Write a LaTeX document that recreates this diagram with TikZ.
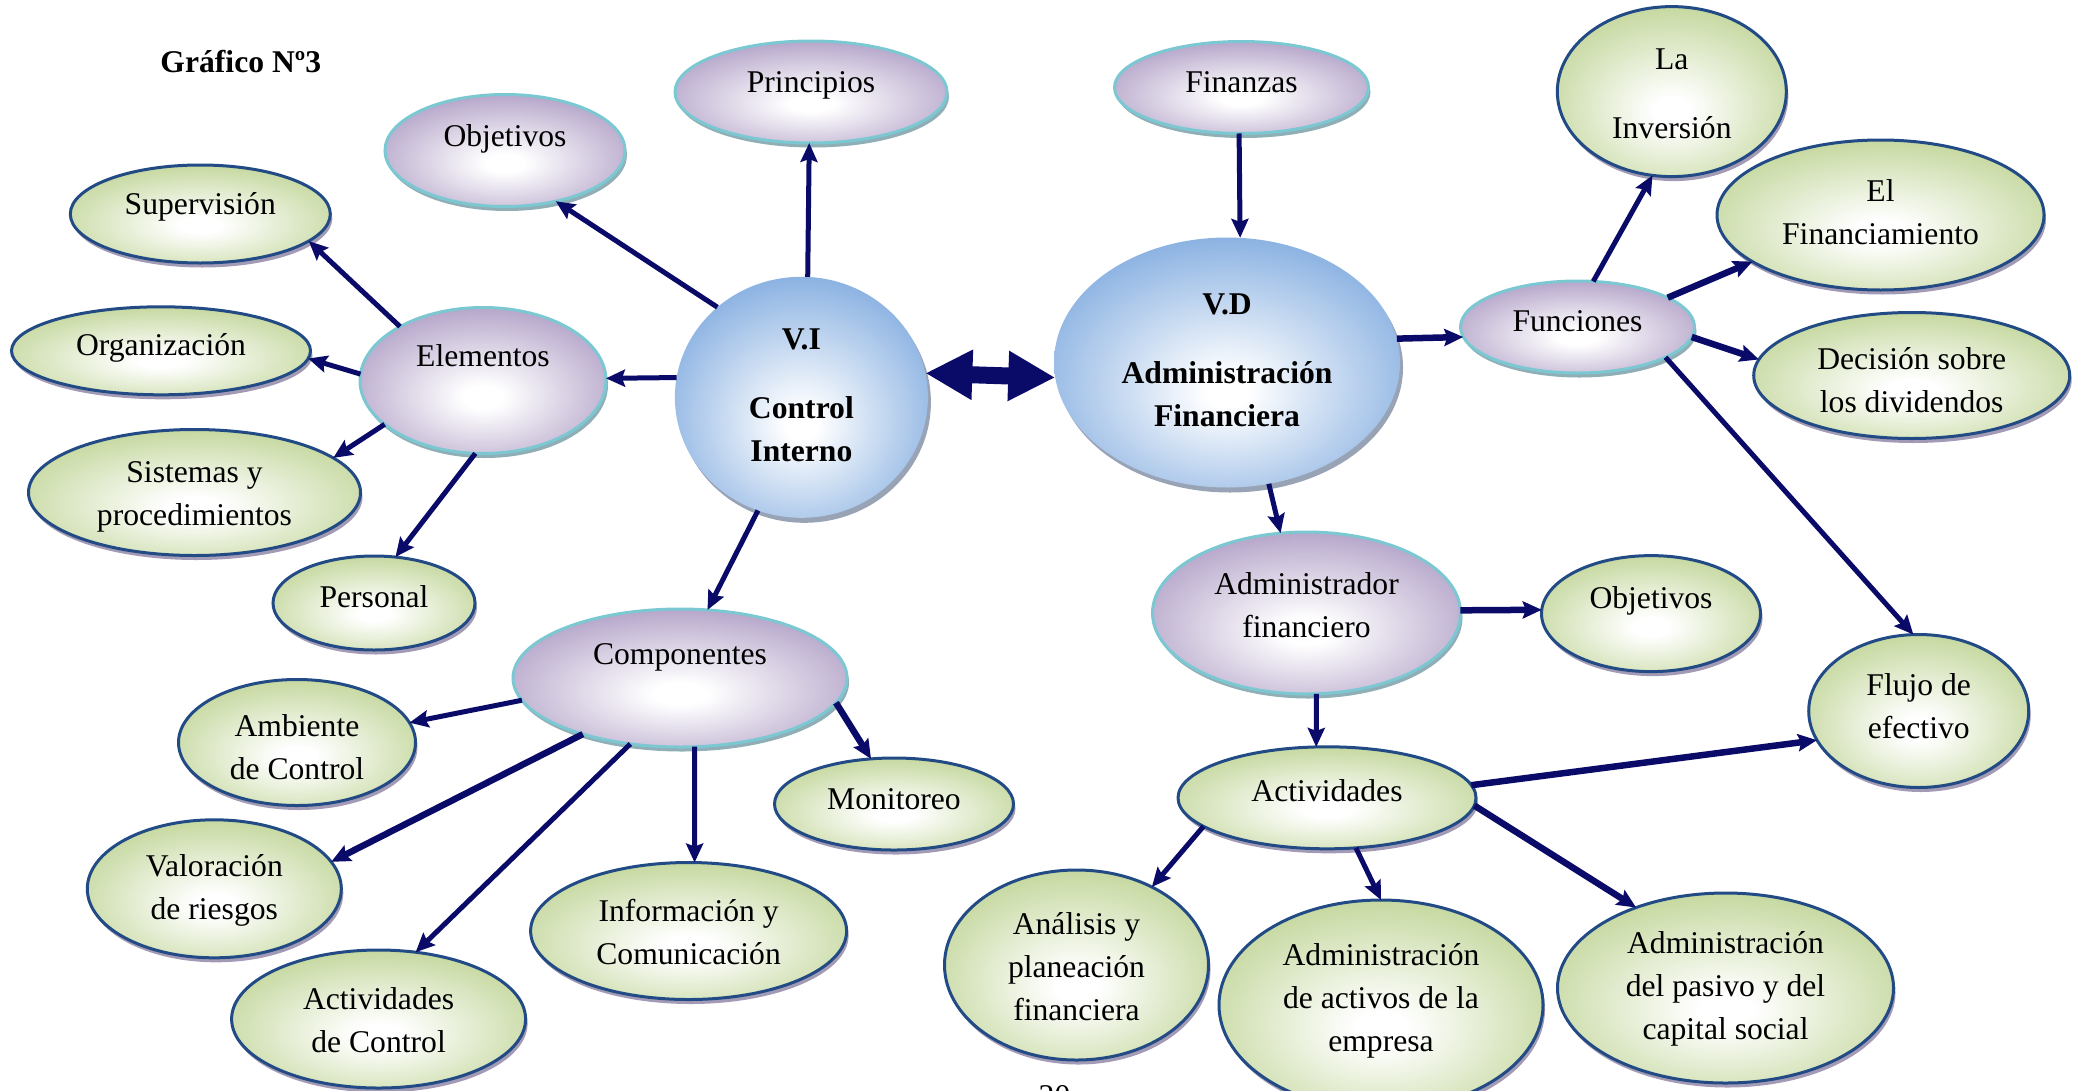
\documentclass[tikz,border=0pt]{standalone}
\usepackage{fontspec}
\setmainfont{Liberation Serif}
\usetikzlibrary{shapes.geometric,arrows.meta,shadows}

% palette
\definecolor{lilac}{HTML}{B09FC6}
\definecolor{lilacrim}{HTML}{7CC8D2}
\definecolor{lilacshade}{HTML}{8FAEB6}
\definecolor{leaf}{HTML}{C1D598}
\definecolor{leafrim}{HTML}{224B86}
\definecolor{leafshade}{HTML}{A39BB5}
\definecolor{sky}{HTML}{8BB2E2}
\definecolor{skyshade}{HTML}{98A3B5}
\definecolor{navyink}{RGB}{10,10,105}

% soft radial glows, white core slightly below the centre
\pgfdeclareradialshading{glowlilac}{\pgfpoint{0bp}{-6bp}}{color(0bp)=(white); color(4bp)=(white); color(31bp)=(lilac); color(80bp)=(lilac)}
\pgfdeclareradialshading{glowleaf}{\pgfpoint{0bp}{-6bp}}{color(0bp)=(white); color(4bp)=(white); color(31bp)=(leaf); color(80bp)=(leaf)}
\pgfdeclareradialshading{glowsky}{\pgfpoint{0bp}{-6bp}}{color(0bp)=(white); color(3bp)=(white); color(29bp)=(sky); color(80bp)=(sky)}

\tikzset{
  bub/.style={ellipse, inner sep=0pt, outer sep=0pt},
  lilacbub/.style={bub, shading=glowlilac, draw=lilacrim, line width=0.3mm,
    drop shadow={shadow xshift=0.2mm, shadow yshift=-0.45mm, fill=lilacshade, opacity=1}},
  leafbub/.style={bub, shading=glowleaf, draw=leafrim, line width=0.3mm,
    drop shadow={shadow xshift=0.2mm, shadow yshift=-0.45mm, fill=leafshade, opacity=1}},
  skybub/.style={bub, shading=glowsky,
    drop shadow={shadow xshift=0.3mm, shadow yshift=-0.5mm, fill=skyshade, opacity=1}},
  txt/.style={align=center, inner sep=0pt, font=\fontsize{9}{12.2}\selectfont},
  link/.style={draw=navyink, line width=0.5mm, -{Stealth[length=1.9mm, width=1.7mm, inset=0.3mm]}},
  boldlink/.style={link, line width=0.65mm},
  bigtip/.tip={Triangle[length=4.7mm, width=4.7mm]}
}

% style, name, x, y, width (mm), height (mm), text shift (mm), text
\newcommand{\bubble}[8]{%
  \node[#1, minimum width=#5mm, minimum height=#6mm] (#2) at (#3,#4) {};
  \node[txt] (#2-t) at ([yshift=#7mm]#2.center) {#8};}

\begin{document}
\begin{tikzpicture}[x=0.1mm, y=-0.1mm]
\useasboundingbox (0,0) rectangle (2086,1090);
\clip (0,0) rectangle (2086,1090);

\node[txt, font=\fontsize{9}{12.2}\selectfont\bfseries] (title) at (240.8,61.6) {Gráfico Nº3};

% independent variable and its branches
\bubble{skybub}{vi}{801.4}{397.3}{25.3}{24.1}{0.2}{\textbf{V.I}\\[7.4pt]\textbf{Control}\\\textbf{Interno}}
\bubble{lilacbub}{obj1}{505}{150.5}{24.0}{11.2}{1.15}{Objetivos}
\bubble{lilacbub}{prin}{811}{92}{27.2}{10.2}{0.7}{Principios}
\bubble{lilacbub}{elem}{483}{380.5}{24.6}{14.6}{2.5}{Elementos}
\bubble{lilacbub}{comp}{680}{678}{33.4}{13.8}{2.05}{Componentes}

\bubble{leafbub}{sup}{200.3}{214}{26.0}{9.8}{0.7}{Supervisión}
\bubble{leafbub}{org}{161}{350.8}{29.9}{8.8}{0.3}{Organización}
\bubble{leafbub}{sis}{194.5}{492.5}{33.2}{12.6}{-0.45}{Sistemas y\\procedimientos}
\bubble{leafbub}{per}{374}{603}{20.2}{9.4}{0.6}{Personal}

\bubble{leafbub}{amb}{297}{742.5}{23.7}{12.6}{-0.5}{Ambiente\\de Control}
\bubble{leafbub}{val}{214.3}{888.8}{25.4}{13.8}{-0.2}{Valoración\\de riesgos}
\bubble{leafbub}{actc}{378.6}{1019}{29.4}{13.8}{-0.1}{Actividades\\de Control}
\bubble{leafbub}{info}{688.6}{931}{31.6}{13.7}{-0.07}{Información y\\Comunicación}
\bubble{leafbub}{mon}{894}{804}{23.9}{9.2}{0.53}{Monitoreo}

% dependent variable and its branches
\bubble{skybub}{vd}{1227}{362.5}{34.6}{25.0}{0.25}{\textbf{V.D}\\[7.4pt]\textbf{Administración}\\\textbf{Financiera}}
\bubble{lilacbub}{fin}{1241.5}{87.5}{25.4}{9.2}{0.55}{Finanzas}
\bubble{lilacbub}{func}{1577.5}{327}{23.4}{9.2}{0.57}{Funciones}
\bubble{lilacbub}{admf}{1306.5}{613}{30.8}{16.2}{0.8}{Administrador\\financiero}

\bubble{leafbub}{inv}{1671.8}{91.6}{22.9}{17.0}{-0.2}{La\\[7.4pt]Inversión}
\bubble{leafbub}{fina}{1880.5}{215}{32.7}{15.0}{0.27}{El\\Financiamiento}
\bubble{leafbub}{dec}{1911.7}{375.5}{31.6}{12.6}{-0.48}{Decisión sobre\\los dividendos}
\bubble{leafbub}{obj2}{1651}{613.6}{21.9}{11.6}{1.23}{Objetivos}
\bubble{leafbub}{flu}{1918.7}{711}{22.0}{15.3}{0.45}{Flujo de\\efectivo}
\bubble{leafbub}{act}{1327}{797.8}{29.8}{10.2}{0.7}{Actividades}
\bubble{leafbub}{ana}{1076.5}{965}{26.4}{19.0}{-0.15}{Análisis y\\planeación\\financiera}
\bubble{leafbub}{acv}{1381}{1005}{32.4}{21.0}{0.45}{Administración\\de activos de la\\empresa}
\bubble{leafbub}{pas}{1725.5}{988}{33.6}{19.0}{-0.1}{Administración\\del pasivo y del\\capital social}

% connectors on the control side
\draw[link] (vi.133) -- (obj1.315);
\draw[link] (vi.87) -- (prin.268);
\draw[link] (vi.171) -- (elem.1);
\draw[link] (elem.147) -- (sup.346);
\draw[link] (elem.177) -- (org.357);
\draw[link] (elem.204) -- (sis.14);
\draw[link] (elem.264) -- (per.65);
\draw[link] (vi.249) -- (comp.68);
\draw[link] (comp.188) -- (amb.10);
\draw[boldlink] (comp.210) -- (val.13);
\draw[link] (comp.233) -- (actc.61);
\draw[link] (comp.282) -- (info.85);
\draw[boldlink] (comp.351) -- (mon.117);

% connectors on the finance side
\draw[link] (fin.267) -- (vd.84);
\draw[boldlink] (vd.8) -- (func.185);
\draw[link] (func.71) -- (inv.257);
\draw[boldlink] (func.18) -- (fina.200);
\draw[boldlink] (func.355) -- (dec.174);
\draw[link] (func.341) -- (flu.94);
\draw[link] (vd.289) -- (admf.108);
\draw[boldlink] (admf.1) -- (obj2.178);
\draw[link] (admf.277) -- (act.102);
\draw[boldlink] (act.5) -- (flu.196);
\draw[link] (act.193) -- (ana.46);
\draw[link] (act.300) -- (acv.90);
\draw[boldlink] (act.357) -- (pas.138);

% relation between the two variables
\draw[navyink, line width=1.7mm, {bigtip}-{bigtip}] (vi.11) -- (vd.185);

\node[txt, anchor=base] (pgno) at (1054.5,1106.5) {20};
\end{tikzpicture}
\end{document}
